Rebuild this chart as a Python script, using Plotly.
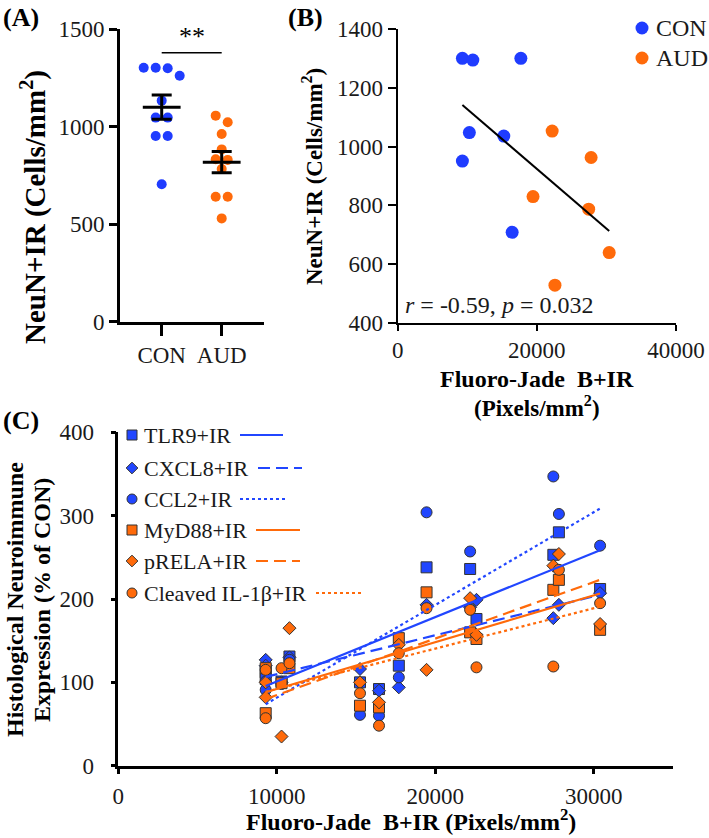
import numpy as np
import plotly.graph_objects as go

W, H = 709, 838

# ---------------- data ----------------
# Panel A: NeuN+IR per subject (cells/mm2)
group_labels = ["CON", "AUD"]
con_neun_a = [1303, 1262, 1300, 1303, 1134, 1047, 1047, 953, 953, 705]
aud_neun_a = [1023, 1057, 963, 884, 830, 833, 783, 641, 641, 530]

# Panel B: Fluoro-Jade B+IR vs NeuN+IR
fjb_con = [9300, 9300, 10300, 10800, 15250, 16450, 17700]
neun_con = [1301, 951, 1048, 1295, 1036, 708, 1301]
fjb_aud = [19450, 22200, 22600, 27450, 27800, 30400]
neun_aud = [830, 1053, 528, 787, 963, 639]
corr_text = "<i>r</i> = -0.59, <i>p</i> = 0.032"

# Panel C: histological neuroimmune expression (% of CON), same subjects as B
fjb_all = fjb_con + fjb_aud
series_names = ["TLR9+IR", "CXCL8+IR", "CCL2+IR", "MyD88+IR", "pRELA+IR", "Cleaved IL-1β+IR"]
tlr9_ir = [112, 104, 101, 131, 100, 92, 120, 238, 236, 176, 253, 280, 212]
cxcl8_ir = [127, 120, 100, 130, 116, 90, 94, 193, 190, 199, 177, 193, 207]
ccl2_ir = [101, 91, 98, 127, 61, 60, 106, 304, 257, 155, 347, 302, 264]
myd88_ir = [117, 63, 99, 117, 72, 70, 153, 208, 160, 152, 211, 223, 163]
prela_ir = [82, 100, 35, 165, 100, 76, 145, 115, 201, 157, 240, 254, 170]
il1b_ir = [115, 57, 117, 123, 87, 48, 135, 189, 187, 118, 119, 235, 195]

ticks_a_y = [0, 500, 1000, 1500]
ticks_b_x = [0, 20000, 40000]
ticks_b_y = [400, 600, 800, 1000, 1200, 1400]
ticks_c_x = [0, 10000, 20000, 30000]
ticks_c_y = [0, 100, 200, 300, 400]

# ---------------- styles ----------------
BLUE = "#1f3cff"
BLUE_C = "#2146ff"
ORANGE = "#ff6a0a"
SERIF = "Liberation Serif"
TICKFONT = dict(family=SERIF, size=23, color="#1a1a1a")

c_values = [tlr9_ir, cxcl8_ir, ccl2_ir, myd88_ir, prela_ir, il1b_ir]
c_colors = [BLUE_C, BLUE_C, BLUE_C, ORANGE, ORANGE, ORANGE]
c_symbols = ["square", "diamond", "circle", "square", "diamond", "circle"]
c_sizes = [11, 10, 11, 11, 10, 11]
c_dash = ["solid", "12px,6px", "3px,3px", "solid", "12px,6px", "3px,3px"]


def swarm(vals, step=0.2, thresh=45):
    order = sorted(range(len(vals)), key=lambda i: -vals[i])
    rows = []
    for i in order:
        if rows and vals[rows[-1][0]] - vals[i] < thresh:
            rows[-1].append(i)
        else:
            rows.append([i])
    off = [0.0] * len(vals)
    for r in rows:
        n = len(r)
        for k, i in enumerate(r):
            off[i] = (k - (n - 1) / 2) * step
    return off


fig = go.Figure()

# ---------------- Panel A ----------------
for gi, (vals, col) in enumerate([(con_neun_a, BLUE), (aud_neun_a, ORANGE)]):
    offs = swarm(vals)
    fig.add_trace(go.Scatter(
        x=[gi + o for o in offs], y=vals, mode="markers",
        marker=dict(size=10, color=col), xaxis="x", yaxis="y", hoverinfo="skip"))
for gi, vals in enumerate([con_neun_a, aud_neun_a]):
    arr = np.array(vals, dtype=float)
    mean = arr.mean()
    sem = arr.std(ddof=1) / np.sqrt(len(arr))
    fig.add_trace(go.Scatter(
        x=[gi], y=[mean], mode="markers",
        marker=dict(symbol="line-ew", size=27, color="black",
                    line=dict(width=3, color="black")),
        error_y=dict(type="data", array=[sem], width=10, thickness=3, color="black"),
        xaxis="x", yaxis="y", hoverinfo="skip"))

# ---------------- Panel B ----------------
fig.add_trace(go.Scatter(x=fjb_con, y=neun_con, mode="markers",
                         marker=dict(size=13, color=BLUE), xaxis="x2", yaxis="y2"))
fig.add_trace(go.Scatter(x=fjb_aud, y=neun_aud, mode="markers",
                         marker=dict(size=13, color=ORANGE), xaxis="x2", yaxis="y2"))
xb = np.array(fjb_con + fjb_aud, dtype=float)
yb = np.array(neun_con + neun_aud, dtype=float)
mb, bb = np.polyfit(xb, yb, 1)
xfit = np.array([xb.min(), xb.max()])
fig.add_trace(go.Scatter(x=xfit, y=mb * xfit + bb, mode="lines",
                         line=dict(color="black", width=2), xaxis="x2", yaxis="y2"))

# ---------------- Panel C ----------------
xc = np.array(fjb_all, dtype=float)
for vals, col, sym, sz in zip(c_values, c_colors, c_symbols, c_sizes):
    fig.add_trace(go.Scatter(
        x=fjb_all, y=vals, mode="markers",
        marker=dict(symbol=sym, size=sz, color=col,
                    line=dict(width=1, color="#333333")),
        xaxis="x3", yaxis="y3"))
for vals, col, dash in zip(c_values, c_colors, c_dash):
    m, b = np.polyfit(xc, np.array(vals, dtype=float), 1)
    xf = np.array([xc.min(), xc.max()])
    fig.add_trace(go.Scatter(x=xf, y=m * xf + b, mode="lines",
                             line=dict(color=col, width=2.2, dash=dash),
                             xaxis="x3", yaxis="y3"))

# ---------------- custom legends (pixel overlay axis) ----------------
leg_b_rows = [28, 58]
for row_y, col, name in zip(leg_b_rows, [BLUE, ORANGE], group_labels):
    fig.add_trace(go.Scatter(x=[642], y=[row_y], mode="markers",
                             marker=dict(size=13, color=col), xaxis="x4", yaxis="y4"))
    fig.add_annotation(x=654, y=row_y, xref="x4", yref="y4", text=name, showarrow=False,
                       xanchor="left", yanchor="middle",
                       font=dict(family=SERIF, size=24, color="#1a1a1a"))

leg_c_rows = [435, 468, 499, 530, 561, 593]
leg_c_lines = [(240, 283), (258, 302), (240, 287), (256, 300), (256, 300), (316, 361)]
for row_y, (lx0, lx1), col, sym, sz, dash, name in zip(
        leg_c_rows, leg_c_lines, c_colors, c_symbols, c_sizes, c_dash, series_names):
    fig.add_trace(go.Scatter(x=[132], y=[row_y], mode="markers",
                             marker=dict(symbol=sym, size=sz - 1,
                                         color=col, line=dict(width=1, color="#333333")),
                             xaxis="x4", yaxis="y4"))
    fig.add_annotation(x=142, y=row_y, xref="x4", yref="y4", text=name, showarrow=False,
                       xanchor="left", yanchor="middle",
                       font=dict(family=SERIF, size=22, color="#1a1a1a"))
    fig.add_trace(go.Scatter(x=[lx0, lx1], y=[row_y, row_y], mode="lines",
                             line=dict(color=col, width=2.2, dash=dash),
                             xaxis="x4", yaxis="y4"))

# ---------------- annotations ----------------
def ann(x, y, text, size=24, angle=0, bold=True, xanchor="center"):
    fig.add_annotation(x=x, y=y, xref="x4", yref="y4",
                       text=(f"<b>{text}</b>" if bold else text), showarrow=False,
                       textangle=angle, xanchor=xanchor, yanchor="middle",
                       font=dict(family=SERIF, size=size, color="black"))

ann(21, 17, "(A)", size=26)
ann(305, 17, "(B)", size=26)
ann(21, 420, "(C)", size=26)
ann(33, 207, "NeuN+IR (Cells/mm<sup>2</sup>)", size=29, angle=-90)
ann(312, 177, "NeuN+IR (Cells/mm<sup>2</sup>)", size=23, angle=-90)
ann(537, 379, "Fluoro-Jade&nbsp; B+IR", size=24)
ann(537, 406, "(Pixels/mm<sup>2</sup>)", size=23)
ann(15, 600, "Histological Neuroimmune", size=24, angle=-90)
ann(42, 600, "Expression (% of CON)", size=24, angle=-90)
ann(411, 820, "Fluoro-Jade&nbsp; B+IR (Pixels/mm<sup>2</sup>)", size=24)

fig.add_annotation(x=700, y=462, xref="x2", yref="y2", text=corr_text, showarrow=False,
                   xanchor="left", yanchor="middle",
                   font=dict(family=SERIF, size=24, color="#1a1a1a"))

fig.add_shape(type="line", x0=0, x1=1, y0=1380, y1=1380, xref="x", yref="y",
              line=dict(color="black", width=1.5))
fig.add_annotation(x=0.5, y=1462, xref="x", yref="y", text="**", showarrow=False,
                   font=dict(family=SERIF, size=26, color="black"))

# ---------------- axes ----------------
def axis_common(lw=2):
    return dict(showline=True, linecolor="black", linewidth=lw, ticks="outside",
                tickcolor="black", tickwidth=lw, showgrid=False, zeroline=False,
                tickfont=TICKFONT, fixedrange=True, automargin=False)

def dom_x(a, b):
    return [a / W, b / W]

def dom_y(top, bottom):
    return [1 - bottom / H, 1 - top / H]

fig.update_layout(
    width=W, height=H, autosize=False,
    margin=dict(l=0, r=0, t=0, b=0, pad=0, autoexpand=False),
    paper_bgcolor="white", plot_bgcolor="rgba(0,0,0,0)", showlegend=False,
    xaxis=dict(domain=dom_x(120, 264), range=[-0.695, 1.705], tickvals=[0, 1],
               ticktext=group_labels, anchor="y", ticklen=11, **axis_common(3)),
    yaxis=dict(domain=dom_y(29.3, 321.7), range=[0, 1500], tickvals=ticks_a_y,
               ticktext=[str(v) for v in ticks_a_y], anchor="x", ticklen=8,
               **axis_common(3)),
    xaxis2=dict(domain=dom_x(397.7, 676), range=[0, 40000], tickvals=ticks_b_x,
                ticktext=[str(v) for v in ticks_b_x], anchor="y2", ticklen=6,
                **axis_common(2)),
    yaxis2=dict(domain=dom_y(29.3, 322.7), range=[400, 1400], tickvals=ticks_b_y,
                ticktext=[str(v) for v in ticks_b_y], anchor="x2", ticklen=8,
                **axis_common(2)),
    xaxis3=dict(domain=dom_x(118.3, 673), range=[0, 35000], tickvals=ticks_c_x,
                ticktext=[str(v) for v in ticks_c_x], anchor="y3", ticklen=6,
                ticklabelstandoff=2, **axis_common(2.5)),
    yaxis3=dict(domain=dom_y(432.3, 765.7), range=[0, 400], tickvals=ticks_c_y,
                ticktext=[str(v) for v in ticks_c_y], anchor="x3", ticklen=5,
                ticklabelstandoff=12, **axis_common(2.5)),
    xaxis4=dict(domain=[0, 1], range=[0, W], visible=False, fixedrange=True,
                anchor="y4", automargin=False),
    yaxis4=dict(domain=[0, 1], range=[H, 0], visible=False, fixedrange=True,
                anchor="x4", automargin=False),
)

fig.write_html(
    "out.html",
    config={"displayModeBar": False, "responsive": False},
    post_script="document.body.style.margin='0px';document.body.style.overflow='hidden';",
)
